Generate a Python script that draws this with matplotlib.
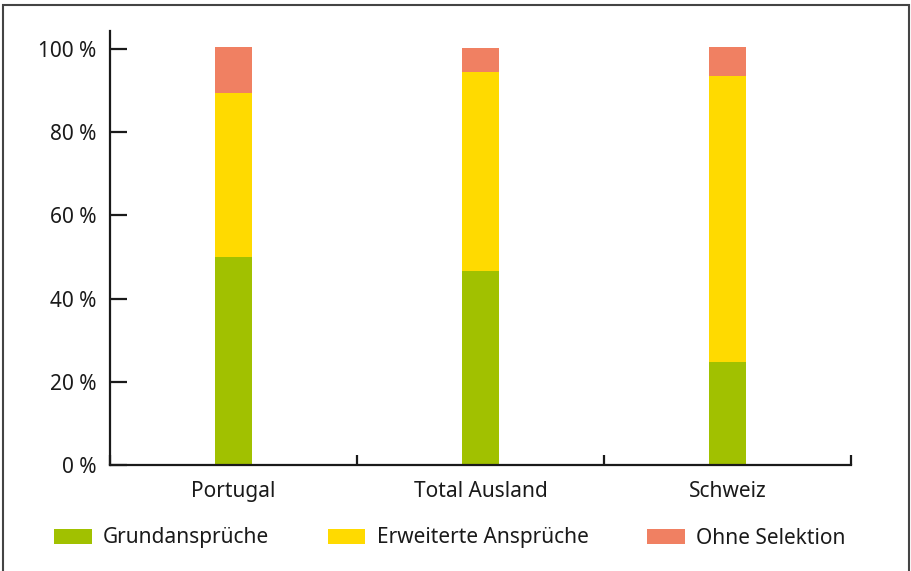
import numpy as np
import matplotlib.pyplot as plt
from matplotlib.patches import Rectangle, Patch

plt.rcParams['font.family'] = ['Noto Sans', 'DejaVu Sans']

# Shares in percent
categories = ['Portugal', 'Total Ausland', 'Schweiz']
grund = [50.1, 46.7, 24.8]
erweitert = [39.2, 47.8, 68.7]
ohne = [11.2, 5.7, 7.0]
series_names = ['Grundansprüche', 'Erweiterte Ansprüche', 'Ohne Selektion']
colors = ['#A1C100', '#FFDA00', '#F08062']
y_ticks = [0, 20, 40, 60, 80, 100]

fig = plt.figure(figsize=(9.11, 5.71), dpi=100)
ax = fig.add_axes([0.1207, 0.1856, 0.8133, 0.7601])

x = np.arange(len(categories))
w = 0.15
bottom = np.zeros(len(categories))
for vals, c in zip([grund, erweitert, ohne], colors):
    ax.bar(x, vals, w, bottom=bottom, color=c, linewidth=0)
    bottom += np.array(vals)

ax.set_xlim(-0.5, 2.5)
ax.set_ylim(0, 104.3)

for s in ['top', 'right']:
    ax.spines[s].set_visible(False)
for s in ['left', 'bottom']:
    ax.spines[s].set_linewidth(1.6)
    ax.spines[s].set_color('#1a1a1a')

ax.set_yticks(y_ticks)
ax.set_yticklabels([f'{v} %' for v in y_ticks])
ax.tick_params(axis='y', direction='in', length=12, width=1.6, color='#1a1a1a',
               pad=10, labelsize=15, labelcolor='#1a1a1a')

ax.set_xticks([-0.5, 0.5, 1.5, 2.5])
ax.set_xticklabels([])
ax.set_xticks(x, minor=True)
ax.set_xticklabels(categories, minor=True)
ax.tick_params(axis='x', which='major', direction='in', length=7.5, width=1.6, color='#1a1a1a')
ax.tick_params(axis='x', which='minor', length=0, pad=11.5, labelsize=15, labelcolor='#1a1a1a')

handles = [Patch(facecolor=c, edgecolor='none') for c in colors]
leg = fig.legend(handles, series_names, loc='center left', bbox_to_anchor=(54 / 911, 1 - 538 / 571),
                 ncol=3, frameon=False, fontsize=15, borderpad=0, borderaxespad=0,
                 handlelength=1.8, handleheight=0.7, handletextpad=0.56, columnspacing=2.8)
for t in leg.get_texts():
    t.set_color('#1a1a1a')

fig.patches.append(Rectangle((3 / 911, -0.05), 906 / 911, 1.05 - 5 / 571, transform=fig.transFigure,
                             fill=False, edgecolor='#444444', linewidth=1.5))

fig.savefig('out.png', dpi=100)
